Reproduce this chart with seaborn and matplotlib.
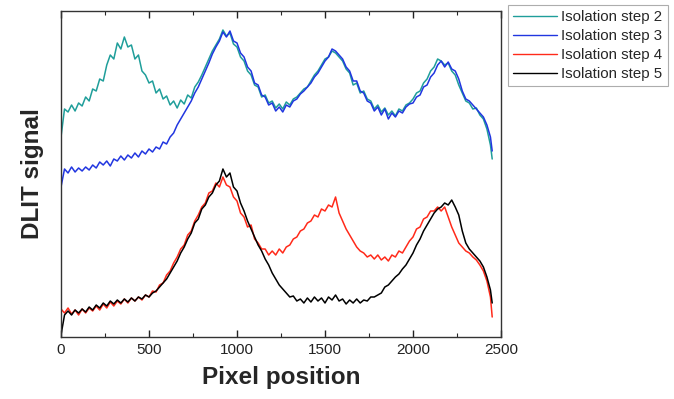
import numpy as np
import pandas as pd
import matplotlib
matplotlib.use("Agg")
import matplotlib.pyplot as plt
import seaborn as sns
from matplotlib.ticker import MultipleLocator

pixel_pos = [0, 20, 40, 60, 80, 100, 120, 140, 160, 180, 200, 220, 240, 260, 280, 300,
             320, 340, 360, 380, 400, 420, 440, 460, 480, 500, 520, 540, 560, 580, 600,
             620, 640, 660, 680, 700, 720, 740, 760, 780, 800, 820, 840, 860, 880, 900,
             920, 940, 960, 980, 1000, 1020, 1040, 1060, 1080, 1100, 1120, 1140, 1160,
             1180, 1200, 1220, 1240, 1260, 1280, 1300, 1320, 1340, 1360, 1380, 1400,
             1420, 1440, 1460, 1480, 1500, 1520, 1540, 1560, 1580, 1600, 1620, 1640,
             1660, 1680, 1700, 1720, 1740, 1760, 1780, 1800, 1820, 1840, 1860, 1880,
             1900, 1920, 1940, 1960, 1980, 2000, 2020, 2040, 2060, 2080, 2100, 2120,
             2140, 2160, 2180, 2200, 2220, 2240, 2260, 2280, 2300, 2320, 2340, 2360,
             2380, 2400, 2420, 2440, 2450]

step2 = [200, 228, 225, 232, 226, 234, 231, 240, 236, 248, 246, 258, 256, 272, 282, 278,
         294, 288, 300, 290, 292, 278, 282, 266, 262, 254, 256, 244, 248, 238, 241,
         232, 236, 229, 237, 233, 242, 239, 250, 255, 262, 270, 278, 286, 292, 298,
         307, 301, 304, 293, 290, 280, 276, 266, 262, 252, 250, 240, 242,
         234, 236, 229, 233, 228, 235, 232, 238, 240, 244, 248, 250,
         256, 262, 266, 272, 278, 280, 286, 284, 280, 276, 268, 264,
         252, 254, 244, 246, 238, 236, 228, 232, 225, 229, 222, 226,
         221, 228, 226, 232, 234, 238, 244, 246, 254, 258, 266, 270,
         278, 276, 272, 274, 266, 262, 252, 244, 236, 234, 228, 229,
         222, 218, 208, 192, 178]

step3 = [150, 168, 164, 170, 165, 169, 166, 170, 167, 172, 169, 175, 172, 176, 171, 178,
         176, 181, 177, 182, 179, 184, 180, 186, 183, 188, 185, 190, 188, 195, 193,
         200, 204, 212, 218, 224, 230, 236, 244, 250, 258, 266, 274, 283, 290, 296,
         305, 300, 306, 296, 294, 284, 280, 270, 266, 254, 252, 242, 240,
         232, 234, 226, 230, 225, 232, 230, 236, 238, 243, 246, 250,
         254, 260, 264, 270, 276, 280, 288, 286, 282, 278, 270, 266,
         256, 256, 246, 244, 236, 234, 226, 230, 222, 228, 218, 224,
         220, 226, 224, 230, 233, 234, 240, 242, 250, 252, 260, 264,
         272, 276, 270, 275, 268, 266, 258, 246, 238, 236, 232, 228,
         224, 220, 212, 200, 186]

step4 = [28, 24, 29, 23, 27, 22, 28, 24, 29, 26, 31, 27, 33, 29, 35, 31,
         36, 33, 38, 34, 39, 36, 40, 37, 42, 40, 46, 45, 52, 54, 62,
         66, 74, 80, 88, 92, 102, 106, 116, 122, 130, 134, 144, 146, 154, 150,
         160, 152, 150, 140, 136, 124, 120, 110, 112, 98, 94, 88, 88,
         82, 86, 82, 88, 84, 90, 92, 98, 100, 106, 108, 114,
         116, 122, 120, 128, 126, 132, 130, 140, 124, 116, 108, 102,
         96, 90, 86, 84, 80, 82, 78, 82, 77, 80, 76, 82,
         80, 86, 84, 90, 96, 100, 108, 110, 118, 120, 126, 126,
         130, 126, 130, 120, 110, 102, 94, 90, 86, 84, 80, 77,
         72, 66, 56, 40, 20]

step5 = [2, 22, 26, 22, 27, 24, 28, 25, 30, 27, 32, 29, 34, 31, 36, 33,
         37, 34, 38, 35, 39, 36, 40, 38, 42, 40, 44, 46, 50, 54, 58,
         64, 70, 76, 84, 90, 98, 104, 114, 118, 128, 132, 140, 144, 152, 156,
         168, 160, 164, 150, 146, 134, 126, 116, 108, 100, 92, 86, 78,
         72, 64, 58, 52, 48, 44, 40, 41, 36, 38, 34, 39,
         35, 40, 36, 39, 34, 40, 37, 42, 36, 38, 33, 37,
         34, 38, 34, 37, 36, 40, 40, 42, 44, 50, 52, 56,
         60, 63, 68, 72, 78, 84, 92, 98, 106, 112, 118, 124,
         128, 130, 134, 132, 137, 130, 122, 106, 94, 88, 84, 80,
         76, 70, 60, 47, 34]

labels = ["Isolation step 2", "Isolation step 3", "Isolation step 4", "Isolation step 5"]
colors = ["#1f9e9a", "#2136e0", "#ff2a1a", "#000000"]

frames = []
for lab, vals in zip(labels, [step2, step3, step4, step5]):
    frames.append(pd.DataFrame({"pos": pixel_pos, "signal": vals, "series": lab}))
df = pd.concat(frames, ignore_index=True)

sns.set_style("white")
plt.rcParams["font.family"] = ["Liberation Sans", "DejaVu Sans"]

fig = plt.figure(figsize=(6.74, 3.99), dpi=100)
ax = fig.add_axes([61 / 674, 1 - 337 / 399, 440 / 674, 326 / 399])

sns.lineplot(data=df, x="pos", y="signal", hue="series", palette=colors,
             hue_order=labels, linewidth=1.1, ax=ax, legend=False, sort=False,
             estimator=None)

ax.set_xlim(0, 2500)
ax.set_ylim(0, 326)
ax.set_yticks([])
ax.xaxis.set_major_locator(MultipleLocator(500))
ax.xaxis.set_minor_locator(MultipleLocator(250))
ax.tick_params(axis="x", which="major", direction="in", length=5, width=1,
               top=True, bottom=True, labelsize=11, colors="#222222", pad=4)
ax.tick_params(axis="x", which="minor", direction="in", length=3, width=0.8,
               top=True, bottom=True)
for s in ax.spines.values():
    s.set_color("#333333")
    s.set_linewidth(1.0)

ax.set_xlabel("Pixel position", fontsize=17.5, fontweight="bold", labelpad=7)
ax.set_ylabel("DLIT signal", fontsize=17.5, fontweight="bold", labelpad=12)

handles = [plt.Line2D([], [], color=c, lw=1.0) for c in colors]
leg = fig.legend(handles, labels, loc="upper left",
                 bbox_to_anchor=(508 / 674, 1 - 5 / 399), fontsize=10.8,
                 frameon=True, fancybox=False, handlelength=2.9,
                 labelspacing=0.33, borderpad=0.35, handletextpad=0.3,
                 borderaxespad=0)
leg.get_frame().set_edgecolor("#999999")
leg.get_frame().set_linewidth(0.8)

fig.savefig("out.png", dpi=100)
